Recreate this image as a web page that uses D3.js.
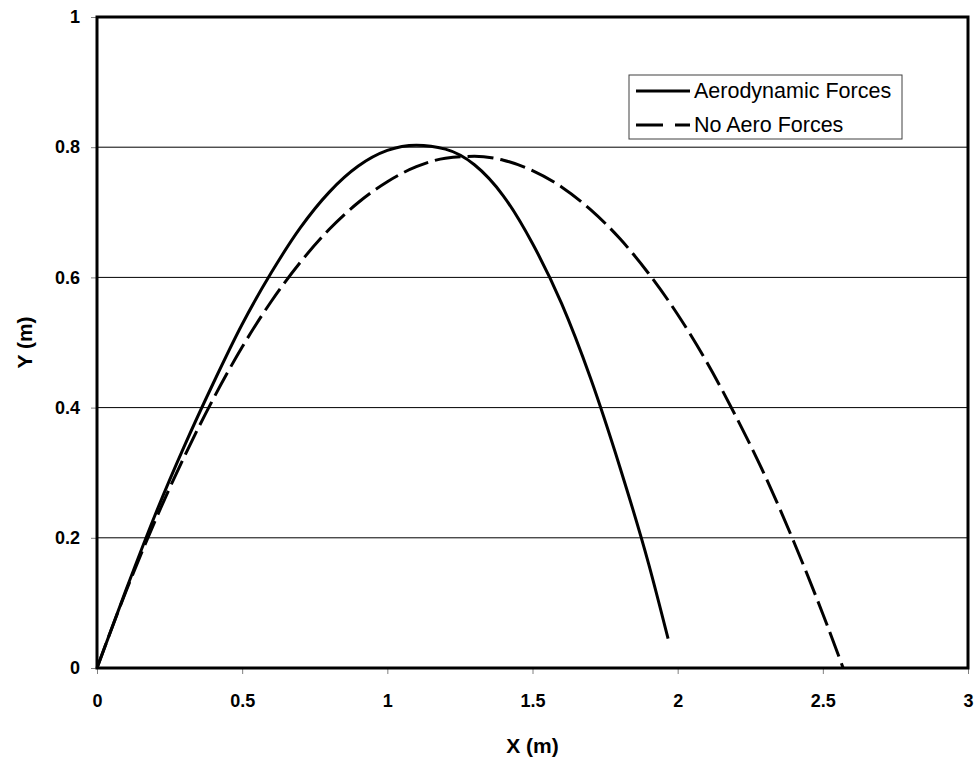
<!DOCTYPE html>
<html><head><meta charset="utf-8">
<script src="https://cdn.jsdelivr.net/npm/d3@7"></script>
<style>body{margin:0;background:#fff}svg{display:block}</style>
</head><body>
<svg id="c" width="977" height="759"></svg>
<script>
const xTicks = [0, 0.5, 1, 1.5, 2, 2.5, 3];
const yTicks = [0, 0.2, 0.4, 0.6, 0.8, 1];
const seriesNames = ["Aerodynamic Forces", "No Aero Forces"];
const aeroX = [0, 0.1, 0.2, 0.3, 0.4, 0.5, 0.6, 0.7, 0.8, 0.9, 1.0, 1.1, 1.2, 1.3, 1.4, 1.5, 1.6, 1.7, 1.8, 1.9, 1.967];
const aeroY = [0, 0.12, 0.235, 0.34, 0.437, 0.528, 0.607, 0.676, 0.731, 0.771, 0.795, 0.803, 0.797, 0.773, 0.725, 0.652, 0.56, 0.445, 0.31, 0.16, 0.045];
const noAeroX = [0, 0.1, 0.2, 0.3, 0.4, 0.5, 0.6, 0.7, 0.8, 0.9, 1.0, 1.1, 1.2, 1.3, 1.4, 1.5, 1.6, 1.7, 1.8, 1.9, 2.0, 2.1, 2.2, 2.3, 2.4, 2.5, 2.57];
const noAeroY = [0, 0.118, 0.226, 0.324, 0.413, 0.493, 0.563, 0.623, 0.674, 0.715, 0.747, 0.77, 0.783, 0.786, 0.78, 0.764, 0.739, 0.704, 0.66, 0.606, 0.543, 0.47, 0.387, 0.296, 0.194, 0.083, 0];

const svg = d3.select("#c");
const L = 97, R = 968, T = 17, B = 668;
const x = d3.scaleLinear().domain([0, 3]).range([L, R]);
const y = d3.scaleLinear().domain([0, 1]).range([B, T]);
const font = "'Liberation Sans', Arial, sans-serif";

// gridlines
svg.append("g").selectAll("line").data(yTicks.filter(d => d > 0 && d < 1)).join("line")
  .attr("x1", L).attr("x2", R).attr("y1", d => y(d)).attr("y2", d => y(d))
  .attr("stroke", "#000").attr("stroke-width", 1);

// axes
const xAxis = svg.append("g").attr("transform", `translate(0,${B})`)
  .call(d3.axisBottom(x).tickValues(xTicks).tickFormat(d3.format("")).tickSize(6).tickPadding(20));
const yAxis = svg.append("g").attr("transform", `translate(${L},0)`)
  .call(d3.axisLeft(y).tickValues(yTicks).tickFormat(d3.format("")).tickSize(6).tickPadding(11));
[xAxis, yAxis].forEach(a => {
  a.select(".domain").remove();
  a.selectAll(".tick line").attr("stroke", "#808080");
  a.selectAll("text").attr("font-family", font).attr("font-weight", "bold")
    .attr("font-size", 18).attr("fill", "#000");
});

// frame
svg.append("rect").attr("x", L).attr("y", T).attr("width", R - L).attr("height", B - T)
  .attr("fill", "none").attr("stroke", "#000").attr("stroke-width", 3);

const line = d3.line().x(d => x(d[0])).y(d => y(d[1])).curve(d3.curveMonotoneX);
const aero = aeroX.map((v, i) => [v, aeroY[i]]);
const noAero = noAeroX.map((v, i) => [v, noAeroY[i]]);

svg.append("path").datum(noAero).attr("d", line).attr("fill", "none")
  .attr("stroke", "#000").attr("stroke-width", 3).attr("stroke-dasharray", "26,7");
svg.append("path").datum(aero).attr("d", line).attr("fill", "none")
  .attr("stroke", "#000").attr("stroke-width", 3);

// axis titles
svg.append("text").attr("x", (L + R) / 2).attr("y", 753).attr("text-anchor", "middle")
  .attr("font-family", font).attr("font-weight", "bold").attr("font-size", 21).text("X (m)");
svg.append("text").attr("transform", `translate(32,${(T + B) / 2}) rotate(-90)`)
  .attr("text-anchor", "middle").attr("font-family", font).attr("font-weight", "bold")
  .attr("font-size", 21).text("Y (m)");

// legend
const lg = svg.append("g");
lg.append("rect").attr("x", 629).attr("y", 75).attr("width", 273).attr("height", 64)
  .attr("fill", "#fff").attr("stroke", "#404040").attr("stroke-width", 1);
const dashes = [null, "27,12"];
seriesNames.forEach((n, i) => {
  const yy = 91 + i * 34;
  lg.append("line").attr("x1", 636).attr("x2", 690).attr("y1", yy).attr("y2", yy)
    .attr("stroke", "#000").attr("stroke-width", 3).attr("stroke-dasharray", dashes[i]);
  lg.append("text").attr("x", 694).attr("y", yy + 7).attr("font-family", font)
    .attr("font-size", 21.5).text(n);
});
</script>
</body></html>
